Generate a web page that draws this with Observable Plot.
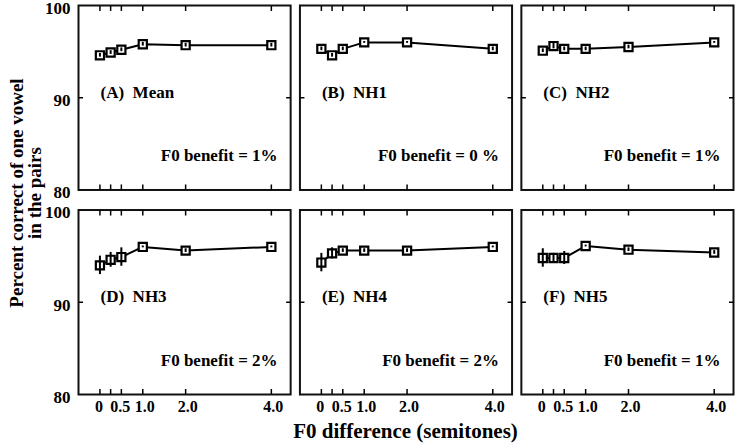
<!DOCTYPE html>
<html>
<head>
<meta charset="utf-8">
<script src="https://cdn.jsdelivr.net/npm/d3@7"></script>
<script src="https://cdn.jsdelivr.net/npm/@observablehq/plot@0.6"></script>
<style>
  html, body { margin: 0; padding: 0; background: #fff; }
  #chart svg { display: block; }
</style>
</head>
<body>
<div id="chart"></div>
<script>
// F0 difference (semitones)
const f0 = [0, 0.25, 0.5, 1, 2, 4];
const f0LabelsLow = [0, 0.5];
const f0LabelsHigh = [1, 2, 4];
const yTickLabels = [80, 90, 100];

const panelLetters = ["A", "B", "C", "D", "E", "F"];
const panelNames = ["Mean", "NH1", "NH2", "NH3", "NH4", "NH5"];
const benefits = ["1%", "0 %", "1%", "2%", "2%", "1%"];

// Percent correct of one vowel in the pairs
const meanPct = [94.6, 94.9, 95.2, 95.8, 95.7, 95.7];
const nh1Pct  = [95.3, 94.6, 95.3, 96.0, 96.0, 95.3];
const nh2Pct  = [95.1, 95.6, 95.3, 95.3, 95.5, 96.0];
const nh3Pct  = [94.0, 94.6, 94.9, 96.0, 95.6, 96.0];
const nh4Pct  = [94.3, 95.3, 95.6, 95.6, 95.6, 96.0];
const nh5Pct  = [94.8, 94.8, 94.8, 96.1, 95.7, 95.4];

// error bar half-lengths
const meanErr = [0.2, 0.2, 0.2, 0.2, 0.2, 0.2];
const nh1Err  = [0.2, 0.2, 0.2, 0.1, 0.1, 0.2];
const nh2Err  = [0.2, 0.3, 0.2, 0.2, 0.2, 0.1];
const nh3Err  = [1.0, 0.8, 1.0, 0.1, 0.2, 0.1];
const nh4Err  = [1.0, 0.6, 0.2, 0.2, 0.2, 0.1];
const nh5Err  = [1.0, 0.5, 0.7, 0.1, 0.2, 0.2];

const series = [meanPct, nh1Pct, nh2Pct, nh3Pct, nh4Pct, nh5Pct];
const errs = [meanErr, nh1Err, nh2Err, nh3Err, nh4Err, nh5Err];

const rows = panelNames.flatMap((name, i) =>
  f0.map((x, j) => ({
    panel: name, col: i % 3, row: Math.floor(i / 3),
    x, y: series[i][j], e: errs[i][j]
  }))
);
const panels = panelNames.map((name, i) => ({
  col: i % 3, row: Math.floor(i / 3),
  label: `(${panelLetters[i]})\u2002${name}`,
  benefit: `F0 benefit = ${benefits[i]}`
}));

const serif = "'Liberation Serif', 'Times New Roman', Times, serif";
const fmt = d => d === 0 ? "0" : d3.format(".1f")(d);

const chart = Plot.plot({
  width: 740,
  height: 444,
  marginLeft: 78,
  marginRight: 7,
  marginTop: 5,
  marginBottom: 50,
  style: { fontFamily: serif, fontSize: "17px", fontWeight: "bold", color: "#000", background: "#fff" },
  fx: { domain: [0, 1, 2], paddingInner: 0.042, paddingOuter: 0, round: false, axis: null },
  fy: { domain: [0, 1], paddingInner: 0.098, paddingOuter: 0, round: false, axis: null },
  x: { domain: [-0.5, 4.45], axis: null },
  y: { domain: [80, 100], axis: null },
  marks: [
    Plot.frame({ stroke: "#111", strokeWidth: 2 }),
    // inward tick marks on every panel
    Plot.axisX(f0, { anchor: "bottom", tickSize: 5, dy: -5, fill: "none", label: null, facetAnchor: null, strokeWidth: 1.5 }),
    Plot.axisX(f0, { anchor: "top", tickSize: 5, dy: 5, fill: "none", label: null, facetAnchor: null, strokeWidth: 1.5 }),
    Plot.axisY([90], { anchor: "left", tickSize: 5, dx: 5, fill: "none", label: null, facetAnchor: null, strokeWidth: 1.5 }),
    Plot.axisY([90], { anchor: "right", tickSize: 5, dx: -5, fill: "none", label: null, facetAnchor: null, strokeWidth: 1.5 }),
    // tick labels on outer panels
    Plot.axisX(f0LabelsLow, { anchor: "bottom", tickSize: 0, tickPadding: 6, dx: -1, label: null, fontSize: 16, tickFormat: fmt }),
    Plot.axisX(f0LabelsHigh, { anchor: "bottom", tickSize: 0, tickPadding: 6, dx: 2, label: null, fontSize: 16, tickFormat: fmt }),
    Plot.axisY(yTickLabels, { anchor: "left", tickSize: 0, tickPadding: 8, dy: 3, label: null, fontSize: 17 }),
    // data
    Plot.line(rows, { fx: "col", fy: "row", x: "x", y: "y", z: "panel", stroke: "#000", strokeWidth: 2 }),
    Plot.dot(rows, { fx: "col", fy: "row", x: "x", y: "y", symbol: "square", r: 4.6, fill: "#fff", stroke: "#000", strokeWidth: 2.2 }),
    Plot.ruleX(rows, { fx: "col", fy: "row", x: "x", y1: d => d.y - d.e, y2: d => d.y + d.e, stroke: "#000", strokeWidth: 2 }),
    // panel annotations
    Plot.text(panels, { fx: "col", fy: "row", text: "label", frameAnchor: "top-left", textAnchor: "start", lineAnchor: "middle", dx: 22, dy: 87, fontSize: 17, fill: "#000" }),
    Plot.text(panels, { fx: "col", fy: "row", text: "benefit", frameAnchor: "bottom-right", textAnchor: "end", lineAnchor: "middle", dx: -13, dy: -34, fontSize: 17, fill: "#000" })
  ]
});

document.getElementById("chart").appendChild(chart);

// axis titles
const svg = d3.select(chart);
svg.append("text")
  .attr("x", 405.5).attr("y", 438)
  .attr("text-anchor", "middle")
  .style("font-family", serif).style("font-size", "21px").style("font-weight", "bold")
  .attr("fill", "#000")
  .text("F0 difference (semitones)");
const yt = svg.append("text")
  .attr("transform", "translate(0,193) rotate(-90)")
  .attr("text-anchor", "middle")
  .style("font-family", serif).style("font-size", "19px").style("font-weight", "bold")
  .attr("fill", "#000");
yt.append("tspan").attr("x", 0).attr("y", 23).text("Percent correct of one vowel");
yt.append("tspan").attr("x", 0).attr("y", 41).text("in the pairs");
</script>
</body>
</html>
